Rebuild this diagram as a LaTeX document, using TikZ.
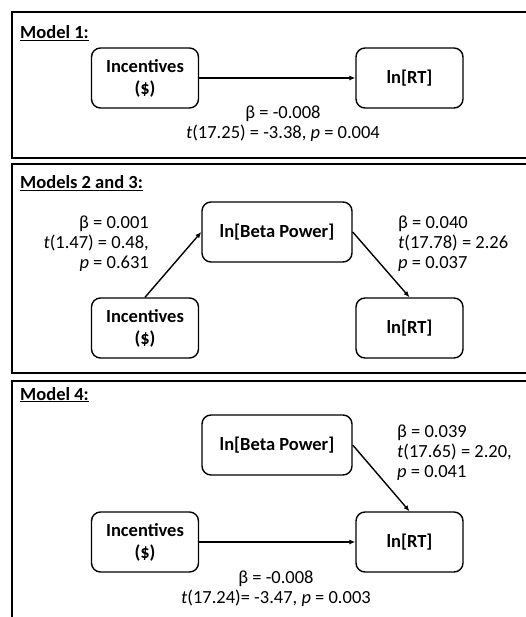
\documentclass[tikz,border=0pt]{standalone}
\usepackage{fontspec}
\setmainfont{Carlito}
\usetikzlibrary{arrows.meta}
\tikzset{
  panel/.style={line width=2pt},
  var/.style={draw, rounded corners=9pt, line width=1.4pt, align=center, inner sep=0pt,
    minimum width=107pt, minimum height=60pt, font=\bfseries\fontsize{18.5}{22}\selectfont},
  widevar/.style={var, minimum width=150pt},
  effect/.style={line width=1.4pt, -{Latex[length=6pt,width=5pt]}},
  stat/.style={inner sep=0pt, font=\fontsize{18.5}{20}\selectfont},
  title/.style={anchor=base west, inner sep=0pt, font=\bfseries\fontsize{18.5}{21}\selectfont}
}
\begin{document}
\begin{tikzpicture}[x=1pt, y=-1pt]
    \useasboundingbox (0, 0) rectangle (526, 617) ;
    \clip (0, 0) rectangle (526, 617) ;
    \draw[panel] (11.5, 12.5) rectangle (560, 158) ;
    \draw[panel] (11.5, 164.5) rectangle (560, 372.5) ;
    \draw[panel] (12, 381) rectangle (560, 640) ;

    \node[title] (title1) at (20, 39) {\underline{Model 1:}} ;
    \node[var] (inc1) at (145, 78) {Incentives\\(\$)} ;
    \node[var] (rt1) at (409.5, 78) {ln[RT]} ;
    \draw[effect] (inc1) -- (rt1) ;
    \node[stat, anchor=north, align=center] (stat1) at (283, 106)
      {β = -0.008\\\textit{t}(17.25) = -3.38, \textit{p} = 0.004} ;

    \node[title] (title2) at (20, 189) {\underline{Models 2 and 3:}} ;
    \node[widevar] (beta2) at (277, 232) {ln[Beta Power]} ;
    \node[var] (inc2) at (145, 328) {Incentives\\(\$)} ;
    \node[var] (rt2) at (409.5, 328) {ln[RT]} ;
    \draw[effect] (inc2.north) -- (beta2.west) ;
    \draw[effect] (beta2.east) -- (rt2.north) ;
    \node[stat, anchor=north east, align=right] (stat2a) at (149, 216)
      {β = 0.001\\\textit{t}(1.47) = 0.48,\\\textit{p} = 0.631} ;
    \node[stat, anchor=north west, align=left] (stat2b) at (398, 216)
      {β = 0.040\\\textit{t}(17.78) = 2.26\\\textit{p} = 0.037} ;

    \node[title] (title3) at (20, 400) {\underline{Model 4:}} ;
    \node[widevar] (beta3) at (277, 445) {ln[Beta Power]} ;
    \node[var] (inc3) at (145, 542) {Incentives\\(\$)} ;
    \node[var] (rt3) at (409.5, 542) {ln[RT]} ;
    \draw[effect] (inc3) -- (rt3) ;
    \draw[effect] (beta3.east) -- (rt3.north) ;
    \node[stat, anchor=north west, align=left] (stat3a) at (397, 425)
      {β = 0.039\\\textit{t}(17.65) = 2.20,\\\textit{p} = 0.041} ;
    \node[stat, anchor=north, align=center] (stat3b) at (276, 571)
      {β = -0.008\\\textit{t}(17.24)= -3.47, \textit{p} = 0.003} ;
\end{tikzpicture}
\end{document}
